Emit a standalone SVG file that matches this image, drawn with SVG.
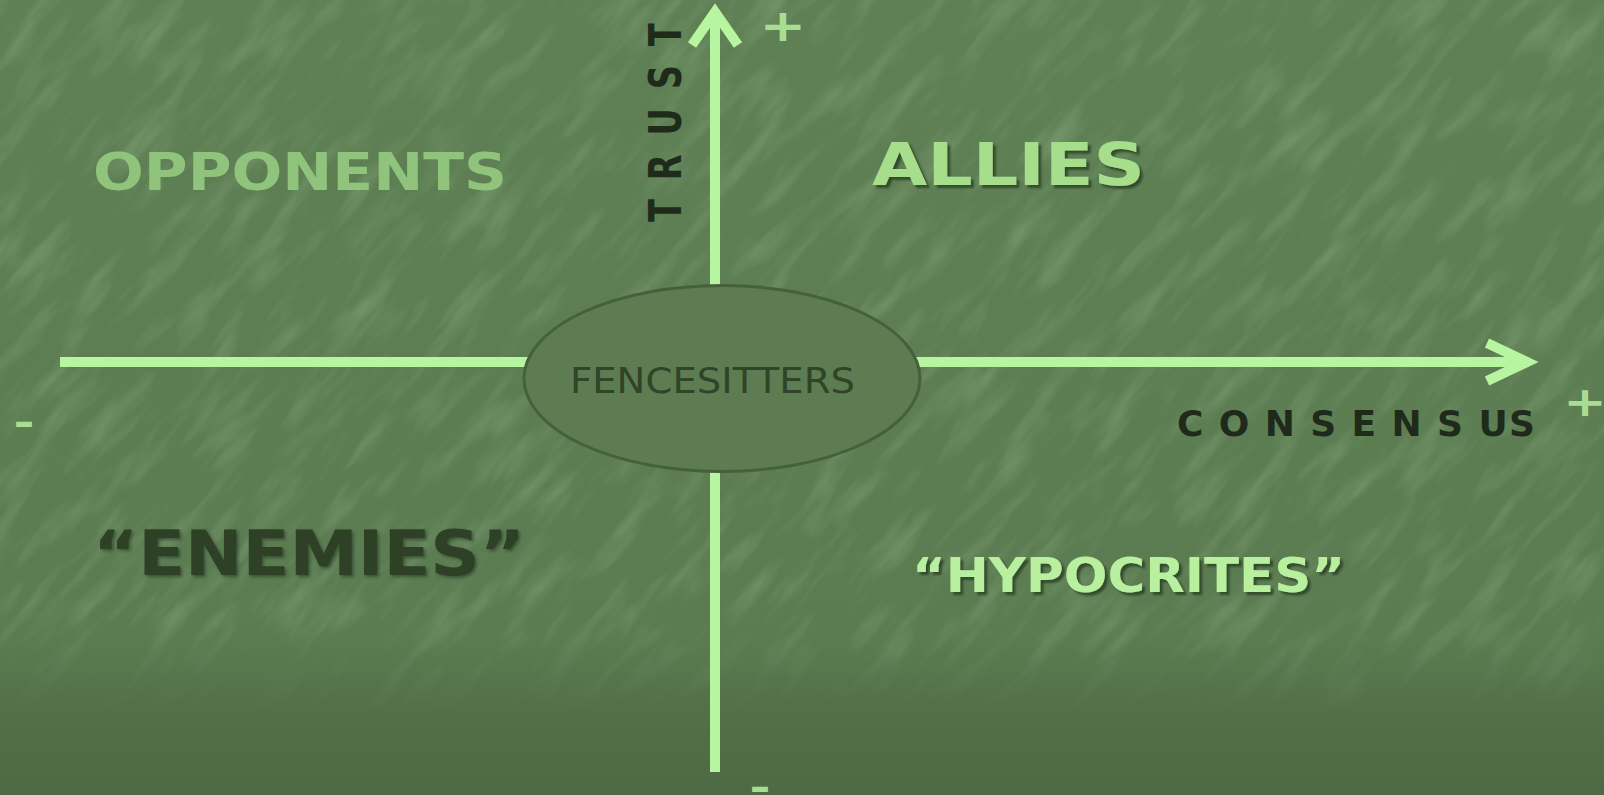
<svg xmlns="http://www.w3.org/2000/svg" width="1604" height="795" viewBox="0 0 1604 795">
  <defs>
    <linearGradient id="bg" x1="0" y1="0" x2="0" y2="1">
      <stop offset="0" stop-color="#5e8054"/>
      <stop offset="0.8" stop-color="#5b7c51"/>
      <stop offset="0.9" stop-color="#516f48"/>
      <stop offset="1" stop-color="#4e6a45"/>
    </linearGradient>
    <filter id="tex" x="0" y="0" width="1" height="1">
      <feTurbulence type="fractalNoise" baseFrequency="0.05 0.012" numOctaves="3" seed="7"/>
      <feColorMatrix type="matrix" values="0 0 0 0 0.55  0 0 0 0 0.72  0 0 0 0 0.5  0 0 0 1.5 -0.7"/>
    </filter>
    <linearGradient id="fade" x1="0" y1="0" x2="0" y2="1">
      <stop offset="0" stop-color="#fff"/>
      <stop offset="0.78" stop-color="#fff"/>
      <stop offset="0.9" stop-color="#000"/>
    </linearGradient>
    <mask id="texmask">
      <rect width="1604" height="795" fill="url(#fade)"/>
    </mask>
    <filter id="shadow" x="-5%" y="-20%" width="110%" height="140%">
      <feGaussianBlur in="SourceAlpha" stdDeviation="1"/>
      <feOffset dx="3" dy="3" result="o"/>
      <feFlood flood-color="#2f4528" flood-opacity="0.9"/>
      <feComposite in2="o" operator="in"/>
      <feMerge><feMergeNode/><feMergeNode in="SourceGraphic"/></feMerge>
    </filter>
    <filter id="soft" x="-5%" y="-20%" width="110%" height="140%">
      <feGaussianBlur in="SourceAlpha" stdDeviation="1.5"/>
      <feOffset dx="2" dy="2" result="o"/>
      <feFlood flood-color="#243520" flood-opacity="0.6"/>
      <feComposite in2="o" operator="in"/>
      <feMerge><feMergeNode/><feMergeNode in="SourceGraphic"/></feMerge>
    </filter>
  </defs>
  <style>
    .axis { stroke: #b8f5a0; stroke-width: 10; fill: none; }
    .head { stroke: #b8f5a0; stroke-width: 10; fill: none; stroke-linejoin: miter; stroke-miterlimit: 10; }
    .sign { font-family: "DejaVu Sans", sans-serif; font-weight: bold; fill: #a9dd92; }
    .big { font-family: "DejaVu Sans", "Liberation Sans", sans-serif; font-weight: bold; }
    .axislabel { font-family: "DejaVu Sans", "Liberation Sans", sans-serif; font-weight: bold; fill: #1e2b1a; }
  </style>

  <rect width="1604" height="795" fill="url(#bg)"/>
  <g mask="url(#texmask)" opacity="0.3">
    <rect x="-600" y="-900" width="2800" height="2600" filter="url(#tex)" transform="rotate(40 802 397)"/>
  </g>

  <g id="connectors">
    <line class="axis" x1="715" y1="14" x2="715" y2="772"/>
    <path class="head" d="M692,45 L715,12 L738,45"/>
    <line class="axis" x1="60" y1="362" x2="1526" y2="362"/>
    <path class="head" d="M1487,343 L1527,362 L1487,381"/>
  </g>

  <g id="fencesitters">
    <ellipse cx="722" cy="378.5" rx="198" ry="93" fill="#5e7c51" stroke="#46603d" stroke-width="3"/>
    <text x="570" y="393" font-family="DejaVu Sans, sans-serif" font-size="36" fill="#2f4428" textLength="285" lengthAdjust="spacingAndGlyphs">FENCESITTERS</text>
  </g>

  <g id="opponents">
    <text class="big" x="93" y="190" font-size="52" fill="#90c47c" textLength="414" lengthAdjust="spacingAndGlyphs">OPPONENTS</text>
  </g>
  <g id="allies">
    <text class="big" x="872" y="185" font-size="59" fill="#a6de8c" textLength="273" lengthAdjust="spacingAndGlyphs" filter="url(#shadow)">ALLIES</text>
  </g>
  <g id="enemies">
    <text class="big" x="93" y="575" font-size="62" fill="#2d3f26" textLength="432" lengthAdjust="spacingAndGlyphs" filter="url(#soft)">“ENEMIES”</text>
  </g>
  <g id="hypocrites">
    <text class="big" x="912" y="592" font-size="48" fill="#b8f0a0" textLength="433" lengthAdjust="spacingAndGlyphs" filter="url(#shadow)">“HYPOCRITES”</text>
  </g>

  <g id="axis-labels">
    <text class="axislabel" transform="translate(681,222) rotate(-90) scale(0.75,1)" x="0" y="0" font-size="45" textLength="265" lengthAdjust="spacing">T R U S T</text>
    <text class="axislabel" x="1177" y="436" font-size="36" textLength="358" lengthAdjust="spacing">C O N S E N S US</text>
    <text class="sign" transform="translate(783,25) scale(1,0.78)" x="0" y="20" font-size="56" text-anchor="middle">+</text>
    <text class="sign" transform="translate(1585,400) scale(1,0.78)" x="0" y="20" font-size="52" text-anchor="middle">+</text>
    <text class="sign" x="24" y="436" font-size="40" text-anchor="middle">–</text>
    <text class="sign" x="760" y="801" font-size="40" text-anchor="middle">–</text>
  </g>
</svg>
